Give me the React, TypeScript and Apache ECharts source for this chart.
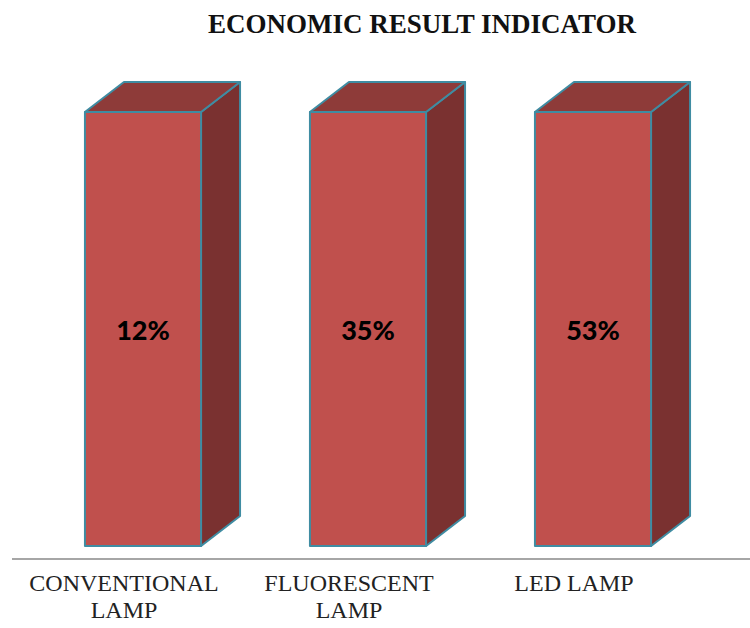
import React, { useEffect, useRef } from "react";
import * as echarts from "echarts";

const categories = ["CONVENTIONAL\nLAMP", "FLUORESCENT\nLAMP", "LED LAMP"];
const barHeights = [100, 100, 100];
const shares = [12, 35, 53];
const title = "ECONOMIC RESULT INDICATOR";

const FRONT = "#C0504D";
const TOP = "#8E3B39";
const SIDE = "#7A3130";
const EDGE = "#3F8CA2";

export default function App() {
  const ref = useRef<HTMLDivElement>(null);
  useEffect(() => {
    if (!ref.current) return;
    const chart = echarts.init(ref.current, null, { renderer: "svg" });
    const data = categories.map((_, i) => [i, barHeights[i], shares[i]]);
    chart.setOption({
      animation: false,
      backgroundColor: "#ffffff",
      title: {
        text: title,
        left: 417,
        textAlign: "center",
        top: 5,
        textStyle: {
          fontFamily: "Liberation Serif",
          fontWeight: "bold",
          fontSize: 27,
          color: "#111111",
        },
      },
      grid: { left: 30.5, width: 675, top: 112, bottom: 82 },
      xAxis: {
        type: "category",
        data: categories,
        axisLine: { show: false },
        axisTick: { show: false },
        axisLabel: {
          interval: 0,
          margin: 23,
          fontFamily: "Liberation Serif",
          fontSize: 24,
          lineHeight: 27,
          color: "#222222",
          padding: [0, 38, 0, 0],
        },
      },
      yAxis: { type: "value", min: 0, max: 100, show: false },
      graphic: [
        {
          type: "line",
          shape: { x1: 12, y1: 559, x2: 750, y2: 559 },
          style: { stroke: "#a6a6a6", lineWidth: 2 },
          z: 10,
        },
      ],
      series: [
        {
          type: "custom",
          data,
          encode: { x: 0, y: 1 },
          renderItem: (params: any, api: any) => {
            const idx = api.value(0);
            const v = api.value(1);
            const pct = api.value(2);
            const top = api.coord([idx, v]);
            const bot = api.coord([idx, 0]);
            const w = api.size([1, 0])[0] * 0.516;
            const x0 = top[0] - w / 2;
            const x1 = top[0] + w / 2;
            const y0 = top[1];
            const y1 = bot[1];
            const dx = 39;
            const dy = 30;
            const st = { stroke: EDGE, lineWidth: 2, lineJoin: "round" };
            return {
              type: "group",
              children: [
                {
                  type: "polygon",
                  shape: { points: [[x1, y0], [x1 + dx, y0 - dy], [x1 + dx, y1 - dy], [x1, y1]] },
                  style: { fill: SIDE, ...st },
                },
                {
                  type: "polygon",
                  shape: { points: [[x0, y0], [x0 + dx, y0 - dy], [x1 + dx, y0 - dy], [x1, y0]] },
                  style: { fill: TOP, ...st },
                },
                {
                  type: "rect",
                  shape: { x: x0, y: y0, width: w, height: y1 - y0 },
                  style: { fill: FRONT, ...st },
                },
                {
                  type: "text",
                  style: {
                    text: pct + "%",
                    x: top[0],
                    y: (y0 + y1) / 2,
                    align: "center",
                    verticalAlign: "middle",
                    fontFamily: "Lato",
                    fontWeight: 900,
                    fontSize: 27,
                    fill: "#000000",
                  },
                },
              ],
            };
          },
        },
      ],
    });
    return () => chart.dispose();
  }, []);
  return (
    <div
      ref={ref}
      style={{ position: "fixed", left: 0, top: 0, width: 750, height: 628 }}
    />
  );
}
